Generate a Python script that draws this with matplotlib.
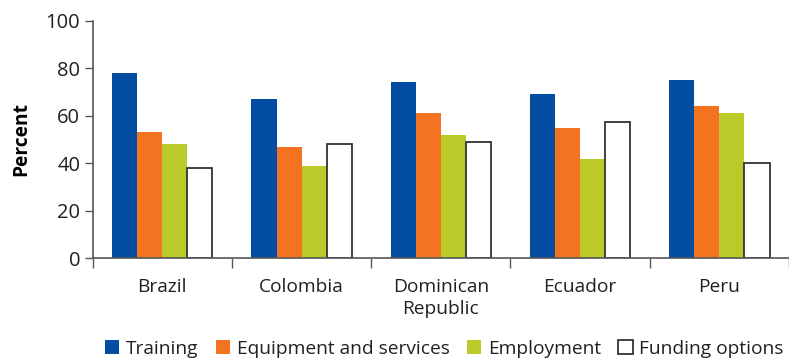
import numpy as np
import matplotlib.pyplot as plt

countries = ["Brazil", "Colombia", "Dominican\nRepublic", "Ecuador", "Peru"]
series = ["Training", "Equipment and services", "Employment", "Funding options"]
training = [78, 67, 74, 69, 75]
equipment = [53, 47, 61, 55, 64]
employment = [48, 39, 52, 42, 61]
funding = [38, 48, 49, 57.5, 40]

colors = ["#034ea2", "#f37321", "#b9ca29", "white"]
edges = ["none", "none", "none", "#333333"]
txt = "#231f20"

plt.rcParams['font.family'] = ['Open Sans', 'DejaVu Sans']
plt.rcParams['text.color'] = txt
plt.rcParams['xtick.labelcolor'] = txt
plt.rcParams['ytick.labelcolor'] = txt

fig = plt.figure(figsize=(7.89, 3.61), dpi=100)
ax = fig.add_axes([92.7 / 789, 1 - 258.3 / 361, 1 - 92.7 / 789, (258.3 - 20.7) / 361])

x = np.arange(len(countries))
w = 0.18
for i, (vals, c, ec) in enumerate(zip([training, equipment, employment, funding], colors, edges)):
    ax.bar(x + (i - 1.5) * w, vals, width=w, color=c, edgecolor=ec,
           linewidth=1.3 if ec != "none" else 0, label=series[i], zorder=2)

fs = 13.8
ax.set_xlim(-0.5, 4.46)
ax.set_ylim(0, 100)
ax.set_yticks([0, 20, 40, 60, 80, 100])
ax.tick_params(axis='y', labelsize=14.5, length=6, color='#555555', width=1, pad=3)
ax.set_xticks(np.arange(len(countries) + 1) - 0.5)
ax.set_xticklabels([])
ax.set_xticks(x, minor=True)
ax.set_xticklabels(countries, minor=True, fontsize=fs, linespacing=1.3)
ax.tick_params(axis='x', which='major', length=7, direction='out', color='#555555', width=1)
ax.tick_params(axis='x', which='minor', length=0, pad=14)

for s in ['top', 'right']:
    ax.spines[s].set_visible(False)
for s in ['left', 'bottom']:
    ax.spines[s].set_color('#555555')
    ax.spines[s].set_linewidth(1.2)

ax.set_ylabel("Percent", fontsize=fs, fontweight='bold', labelpad=10)

fig.legend(loc='center', bbox_to_anchor=(0.563, 1 - 349 / 361), ncol=4, frameon=False,
           fontsize=fs, handlelength=0.75, handleheight=0.75, handletextpad=0.35,
           columnspacing=0.9, borderpad=0, borderaxespad=0)

fig.savefig("out.png", dpi=100)
